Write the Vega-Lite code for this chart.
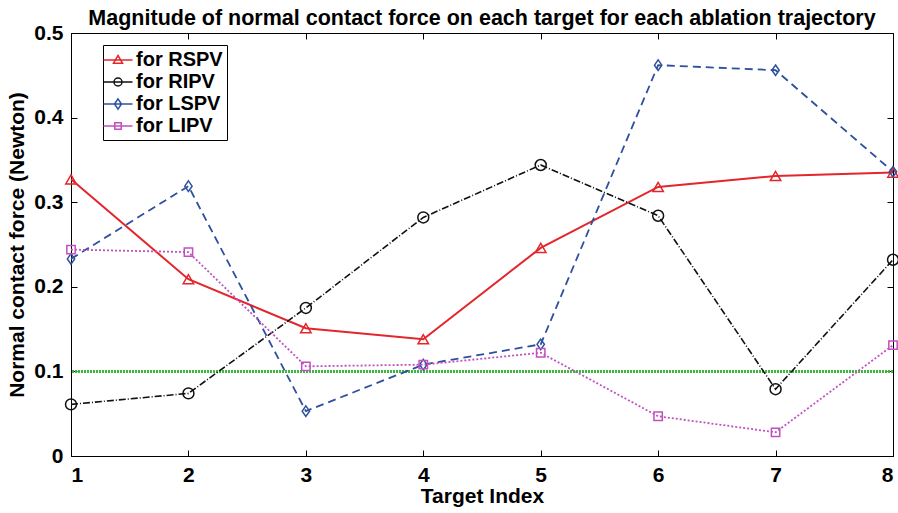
{
  "$schema": "https://vega.github.io/schema/vega-lite/v6.json",
  "width": 822,
  "height": 423,
  "autosize": "none",
  "padding": {"left": 71, "top": 33, "right": 5, "bottom": 57},
  "background": "white",
  "config": {
    "font": "Liberation Sans",
    "view": {"stroke": "black", "strokeWidth": 1},
    "axis": {"grid": false, "domainColor": "black", "tickColor": "black", "labelColor": "black", "titleColor": "black", "labelFont": "Liberation Sans", "titleFont": "Liberation Sans", "labelFontWeight": "bold", "titleFontWeight": "bold", "labelFontSize": 21, "titleFontSize": 21, "tickSize": -6, "labelPadding": 14}
  },
  "title": {"text": "Magnitude of normal contact force on each target for each ablation trajectory", "fontSize": 21.5, "font": "Liberation Sans", "fontWeight": "bold", "color": "black", "offset": -7, "anchor": "middle"},
  "data": {"values": [
    {"series": "for RSPV", "x": 1, "y": 0.327},
    {"series": "for RSPV", "x": 2, "y": 0.209},
    {"series": "for RSPV", "x": 3, "y": 0.151},
    {"series": "for RSPV", "x": 4, "y": 0.138},
    {"series": "for RSPV", "x": 5, "y": 0.246},
    {"series": "for RSPV", "x": 6, "y": 0.318},
    {"series": "for RSPV", "x": 7, "y": 0.331},
    {"series": "for RSPV", "x": 8, "y": 0.335},
    {"series": "for RIPV", "x": 1, "y": 0.061},
    {"series": "for RIPV", "x": 2, "y": 0.074},
    {"series": "for RIPV", "x": 3, "y": 0.175},
    {"series": "for RIPV", "x": 4, "y": 0.282},
    {"series": "for RIPV", "x": 5, "y": 0.344},
    {"series": "for RIPV", "x": 6, "y": 0.284},
    {"series": "for RIPV", "x": 7, "y": 0.079},
    {"series": "for RIPV", "x": 8, "y": 0.232},
    {"series": "for LSPV", "x": 1, "y": 0.233},
    {"series": "for LSPV", "x": 2, "y": 0.319},
    {"series": "for LSPV", "x": 3, "y": 0.053},
    {"series": "for LSPV", "x": 4, "y": 0.108},
    {"series": "for LSPV", "x": 5, "y": 0.132},
    {"series": "for LSPV", "x": 6, "y": 0.462},
    {"series": "for LSPV", "x": 7, "y": 0.456},
    {"series": "for LSPV", "x": 8, "y": 0.336},
    {"series": "for LIPV", "x": 1, "y": 0.244},
    {"series": "for LIPV", "x": 2, "y": 0.241},
    {"series": "for LIPV", "x": 3, "y": 0.106},
    {"series": "for LIPV", "x": 4, "y": 0.108},
    {"series": "for LIPV", "x": 5, "y": 0.122},
    {"series": "for LIPV", "x": 6, "y": 0.047},
    {"series": "for LIPV", "x": 7, "y": 0.028},
    {"series": "for LIPV", "x": 8, "y": 0.131}
  ]},
  "encoding": {
    "x": {"field": "x", "type": "quantitative", "scale": {"domain": [1, 8], "nice": false, "zero": false}, "axis": null},
    "y": {"field": "y", "type": "quantitative", "scale": {"domain": [0, 0.5], "nice": false}, "axis": null},
    "color": {"field": "series", "type": "nominal", "scale": {"domain": ["for RSPV", "for RIPV", "for LSPV", "for LIPV"], "range": ["#e3262b", "#111111", "#2f4f9f", "#c150c0"]}}
  },
  "layer": [
    {
      "mark": {"type": "rule", "color": "#3cb83c", "strokeWidth": 2, "strokeDash": [2, 1]},
      "encoding": {"x": null, "color": null, "y": {"datum": 0.1, "type": "quantitative", "axis": null}}
    },
    {
      "transform": [{"filter": "datum.series === 'for RSPV'"}],
      "mark": {"type": "line", "strokeWidth": 2},
      "encoding": {
        "x": {"field": "x", "type": "quantitative", "axis": {"values": [1, 2, 3, 4, 5, 6, 7, 8], "format": "d", "title": "Target Index", "titlePadding": 0}},
        "y": {"field": "y", "type": "quantitative", "axis": {"values": [0, 0.1, 0.2, 0.3, 0.4, 0.5], "format": "~g", "title": "Normal contact force (Newton)", "titlePadding": 6}}
      }
    },
    {
      "transform": [{"filter": "datum.series === 'for RIPV'"}],
      "mark": {"type": "line", "strokeWidth": 1.6, "strokeDash": [7, 2, 1, 2]}
    },
    {
      "transform": [{"filter": "datum.series === 'for LSPV'"}],
      "mark": {"type": "line", "strokeWidth": 1.8, "strokeDash": [8, 5]}
    },
    {
      "transform": [{"filter": "datum.series === 'for LIPV'"}],
      "mark": {"type": "line", "strokeWidth": 1.8, "strokeDash": [2, 2]}
    },
    {
      "transform": [{"filter": "datum.series === 'for RSPV'"}],
      "mark": {"type": "point", "shape": "triangle-up", "filled": false, "size": 110, "strokeWidth": 1.5, "opacity": 1},
      "encoding": {
        "x": {"field": "x", "type": "quantitative", "axis": {"orient": "top", "values": [1, 2, 3, 4, 5, 6, 7, 8], "labels": false, "title": null, "domain": false}},
        "y": {"field": "y", "type": "quantitative", "axis": {"orient": "right", "values": [0, 0.1, 0.2, 0.3, 0.4, 0.5], "labels": false, "title": null, "domain": false}}
      }
    },
    {
      "transform": [{"filter": "datum.series === 'for RIPV'"}],
      "mark": {"type": "point", "shape": "circle", "filled": false, "size": 120, "strokeWidth": 1.5, "opacity": 1}
    },
    {
      "transform": [{"filter": "datum.series === 'for LSPV'"}],
      "mark": {"type": "point", "shape": "M0,-1L0.7,0L0,1L-0.7,0Z", "filled": false, "size": 110, "strokeWidth": 1.5, "opacity": 1}
    },
    {
      "transform": [{"filter": "datum.series === 'for LIPV'"}],
      "mark": {"type": "point", "shape": "square", "filled": false, "size": 70, "strokeWidth": 1.5, "opacity": 1}
    },
    {
      "transform": [{"filter": "datum.x > 100"}],
      "mark": {"type": "point", "filled": false},
      "encoding": {
        "color": {"field": "series", "type": "nominal", "legend": {"title": null, "orient": "none", "legendX": 32, "legendY": 12, "strokeColor": "black", "fillColor": "white", "padding": 4, "labelFont": "Liberation Sans", "labelFontWeight": "bold", "labelFontSize": 20, "labelColor": "black", "symbolSize": 400, "symbolStrokeWidth": 1.5, "labelOffset": 7, "rowPadding": 1}},
        "shape": {"field": "series", "type": "nominal", "scale": {"domain": ["for RSPV", "for RIPV", "for LSPV", "for LIPV"], "range": [
          "M-1.45,0L1.45,0M0,-0.45L0.45,0.32L-0.45,0.32Z",
          "M-1.45,0L1.45,0M0.4,0A0.4,0.4,0,1,1,-0.4,0A0.4,0.4,0,1,1,0.4,0Z",
          "M-1.45,0L1.45,0M0,-0.52L0.35,0L0,0.52L-0.35,0Z",
          "M-1.45,0L1.45,0M-0.32,-0.32L0.32,-0.32L0.32,0.32L-0.32,0.32Z"
        ]}, "legend": {"title": null, "orient": "none", "legendX": 32, "legendY": 12, "strokeColor": "black", "fillColor": "white", "padding": 4, "labelFont": "Liberation Sans", "labelFontWeight": "bold", "labelFontSize": 20, "labelColor": "black", "symbolSize": 400, "symbolStrokeWidth": 1.5, "labelOffset": 7, "rowPadding": 1}}
      }
    }
  ],
  "resolve": {"axis": {"x": "independent", "y": "independent"}}
}
